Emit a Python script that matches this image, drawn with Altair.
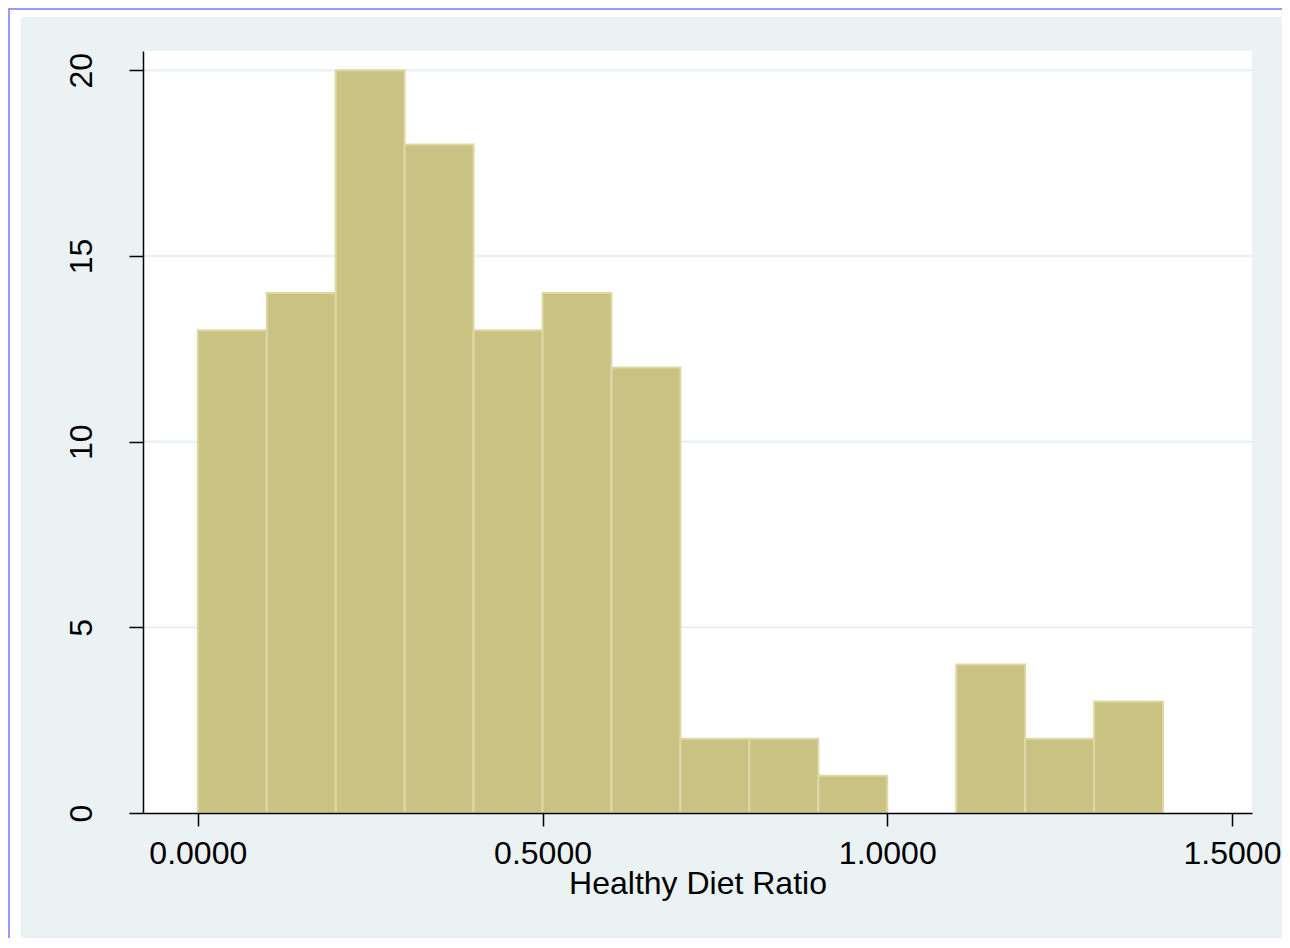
import altair as alt
import pandas as pd

# ---- data ----
bin_starts = [0.0, 0.1, 0.2, 0.3, 0.4, 0.5, 0.6, 0.7, 0.8, 0.9, 1.0, 1.1, 1.2, 1.3]
bin_width = 0.1
counts = [13, 14, 20, 18, 13, 14, 12, 2, 2, 1, 0, 4, 2, 3]
x_ticks = [0.0, 0.5, 1.0, 1.5]
y_ticks = [0, 5, 10, 15, 20]
grid_values = [5, 10, 15, 20]
x_title = "Healthy Diet Ratio"

bars_df = pd.DataFrame({
    "start": bin_starts,
    "end": [round(s + bin_width, 2) for s in bin_starts],
    "count": counts,
    "zero": [0] * len(counts),
})
bars_df = bars_df[bars_df["count"] > 0]
grid_df = pd.DataFrame({"g": grid_values})

# ---- layout ----
W, H = 1109, 762
PAD_L, PAD_T, PAD_R, PAD_B = 135, 43, 30, 125
PANEL = "#EAF2F3"
FONT = "Liberation Sans"

x_scale = alt.Scale(domain=[-0.0795, 1.529], nice=False, zero=False)
y_scale = alt.Scale(domain=[0, 20.52], nice=False, zero=False)

y_axis = alt.Axis(
    values=y_ticks, title=None, grid=False, labelAngle=270, labelAlign="center",
    labelBaseline="alphabetic", labelPadding=38, tickSize=14, tickWidth=1.5,
    tickColor="#000000", domainColor="#000000", domainWidth=1.5,
    labelFontSize=32, labelColor="#000000", labelFont=FONT, zindex=1,
)
x_axis = alt.Axis(
    values=x_ticks, format=".4f", title=x_title, grid=False,
    labelBaseline="alphabetic", labelPadding=37, labelAngle=0,
    tickSize=13, tickWidth=1.5, tickColor="#000000",
    domainColor="#000000", domainWidth=1.5,
    labelFontSize=32, labelColor="#000000", labelFont=FONT, labelFlush=False,
    labelOverlap=False,
    titleFontSize=32, titleFont=FONT, titleFontWeight="normal", titleColor="#000000",
    titleBaseline="alphabetic", titleY=80, zindex=1,
)

one = alt.Data(values=[{"k": 1}])

# decorative frame: white strip + purple border outside the grey panel
white_left = alt.Chart(one).mark_rect(color="white").encode(
    x=alt.value(-PAD_L), x2=alt.value(13 - PAD_L), y=alt.value(-PAD_T), y2=alt.value(H + PAD_B)
)
white_top = alt.Chart(one).mark_rect(color="white").encode(
    x=alt.value(-PAD_L), x2=alt.value(W + PAD_R), y=alt.value(-PAD_T), y2=alt.value(9 - PAD_T)
)
purple_left = alt.Chart(one).mark_rect(color="#9999FF").encode(
    x=alt.value(-PAD_L), x2=alt.value(2 - PAD_L), y=alt.value(-PAD_T), y2=alt.value(H + PAD_B)
)
purple_top = alt.Chart(one).mark_rect(color="#9999FF").encode(
    x=alt.value(-PAD_L), x2=alt.value(W + PAD_R), y=alt.value(-PAD_T), y2=alt.value(2 - PAD_T)
)

grid = alt.Chart(grid_df).mark_rule(color=PANEL, strokeWidth=2.5).encode(
    y=alt.Y("g:Q", scale=y_scale, axis=y_axis)
)

bars = alt.Chart(bars_df).mark_bar(
    fill="#CAC282", stroke="#DDD9A6", strokeWidth=2, opacity=1
).encode(
    x=alt.X("start:Q", scale=x_scale, axis=x_axis),
    x2="end:Q",
    y=alt.Y("count:Q", scale=y_scale, axis=y_axis),
    y2="zero:Q",
)

chart = alt.layer(
    white_left, white_top, purple_left, purple_top, grid, bars
).properties(
    width=W, height=H,
    padding={"left": PAD_L, "top": PAD_T, "right": PAD_R, "bottom": PAD_B},
    autosize=alt.AutoSizeParams(type="none"),
    background=PANEL,
).configure_view(
    stroke=None, fill="white"
)

chart.save("out.html", embed_options={"renderer": "svg", "actions": False})
